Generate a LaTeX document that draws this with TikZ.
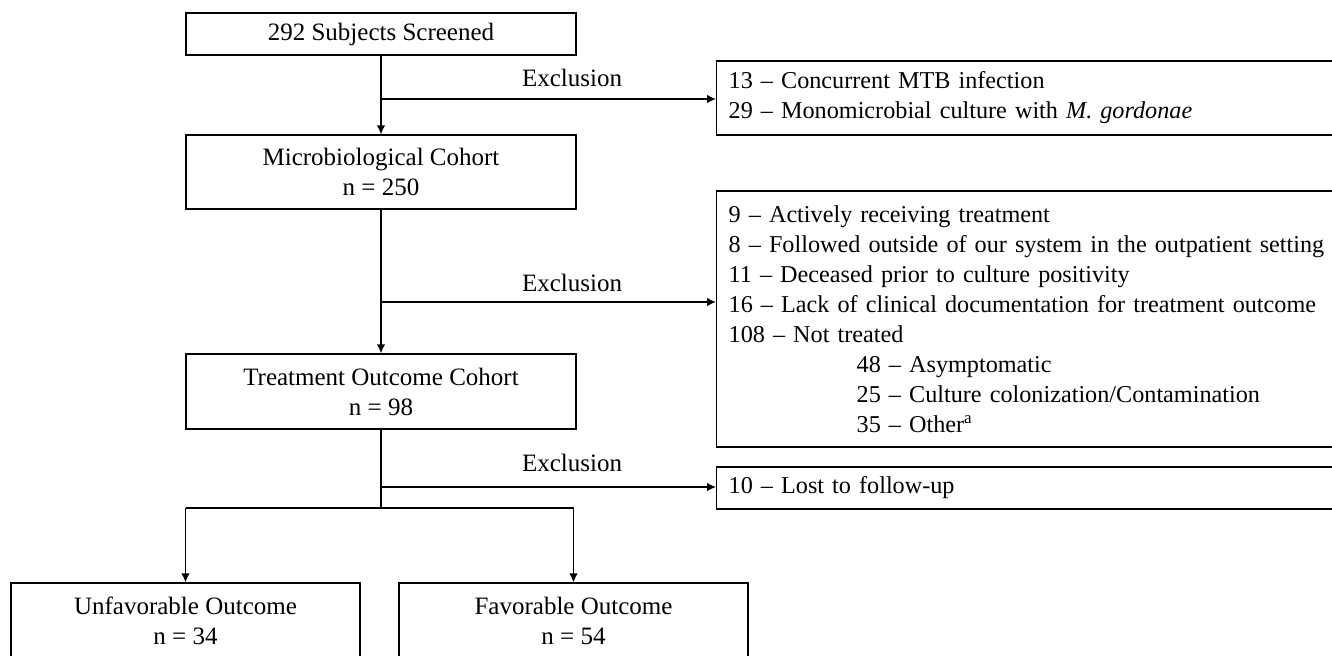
\documentclass[tikz,border=0pt]{standalone}
\usepackage{fontspec}
\setmainfont{Liberation Serif}
\usetikzlibrary{arrows.meta, positioning}
\tikzset{
  cbox/.style ={rectangle, draw=black, line width=0.7pt, fill=white, align=center, inner sep=0pt,
                minimum width=195pt, minimum height=37pt, font=\fontsize{12.5}{15}\selectfont},
  obox/.style ={cbox, minimum width=174.5pt, minimum height=38pt},
  xbox/.style ={rectangle, draw=black, line width=0.7pt, fill=white, align=left, anchor=west,
                text width=310pt, inner xsep=6pt, inner ysep=0pt, font=\fontsize{12.1}{15}\selectfont},
  carr/.style ={-{Latex[length=4.5pt, width=4.3pt]}, line width=0.7pt, color=black},
  cline/.style={line width=0.7pt, color=black},
  clbl/.style ={font=\fontsize{12.5}{15}\selectfont, inner sep=0pt},
}

\begin{document}
\begin{tikzpicture}[x=0.5pt, y=-0.5pt]
  \useasboundingbox (0,0) rectangle (1332,655);
  \clip (0,0) rectangle (1332,655);
  % cohort column
  \node[cbox, minimum height=21pt] (scr) at (381,34) {292 Subjects Screened};
  \node[cbox] (micro) at (381,172) {Microbiological Cohort\\n = 250};
  \node[cbox, minimum height=37.5pt] (treat) at (381,391.5) {Treatment Outcome Cohort\\n = 98};
  \node[obox] (unfav) at (185.5,621) {Unfavorable Outcome\\n = 34};
  \node[obox] (fav) at (573.5,621) {Favorable Outcome\\n = 54};
  % exclusion boxes
  \node[xbox, minimum height=37pt] (ex1) at (716,98) {13 -- Concurrent MTB infection\\29 -- Monomicrobial culture with \textit{M. gordonae}};
  \node[xbox, minimum height=128pt] (ex2) at (716,319) {9 -- Actively receiving treatment\\8 -- Followed outside of our system in the outpatient setting\\11 -- Deceased prior to culture positivity\\16 -- Lack of clinical documentation for treatment outcome\\108 -- Not treated\\\hspace*{64pt}48 -- Asymptomatic\\\hspace*{64pt}25 -- Culture colonization/Contamination\\\hspace*{64pt}35 -- Other\textsuperscript{a}};
  \node[xbox, minimum height=21pt] (ex3) at (716,488) {10 -- Lost to follow-up};
  % branch points
  \coordinate (b1) at (381,99);
  \coordinate (b2) at (381,302);
  \coordinate (b3) at (381,487);
  \coordinate (split) at (381,508);
  \node[clbl] (l1) at (572,78) {Exclusion};
  \node[clbl] (l2) at (572,283) {Exclusion};
  \node[clbl] (l3) at (572,463) {Exclusion};
  \draw[carr] (scr) -- (micro); \draw[carr] (micro) -- (treat); \draw[cline] (treat) -- (split);
  \draw[carr] (b1) -- (b1 -| ex1.west); \draw[carr] (b2) -- (b2 -| ex2.west); \draw[carr] (b3) -- (b3 -| ex3.west);
  \draw[cline] (unfav.north |- split) -- (fav.north |- split);
  \draw[carr] (unfav.north |- split) -- (unfav); \draw[carr] (fav.north |- split) -- (fav);
\end{tikzpicture}
\end{document}
